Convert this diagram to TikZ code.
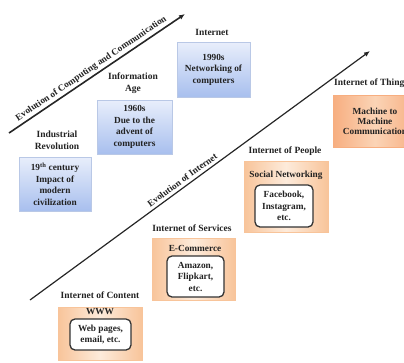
\documentclass[tikz,border=0pt]{standalone}
\usepackage{fontspec}
\setmainfont{Liberation Serif}
\usetikzlibrary{arrows.meta,shadows}
\definecolor{bluetop}{HTML}{E8EEFB}
\definecolor{bluebot}{HTML}{A8BFEE}
\definecolor{blueline}{HTML}{B9C8E6}
\definecolor{orEdge}{HTML}{F8C49A}
\definecolor{orMid}{HTML}{FDEBDB}
\definecolor{iotEdge}{HTML}{F7AE80}
\definecolor{iotMid}{HTML}{FBD4B6}
\definecolor{txt}{HTML}{222222}
\begin{document}
\begin{tikzpicture}[x=1pt,y=-1pt,
  every node/.style={font=\bfseries\fontsize{9.3}{11.5}\selectfont, inner sep=0pt, align=center, text=txt},
  bluebox/.style={draw=blueline, top color=bluetop, bottom color=bluebot,
    drop shadow={opacity=0.15, shadow xshift=1pt, shadow yshift=-1pt}},
  orbox/.style={draw=orEdge, left color=orEdge, right color=orEdge, middle color=orMid},
  iotbox/.style={draw=iotEdge, left color=iotEdge, right color=iotEdge, middle color=iotMid},
  innerbox/.style={draw=black!80, line width=1.3pt, fill=white, rounded corners=5pt},
  title/.style={font=\bfseries\fontsize{9.5}{12}\selectfont},
  arrowlabel/.style={font=\bfseries\fontsize{9.3}{10}\selectfont},
  mainarrow/.style={draw=black!85, -{Latex[length=6pt,width=5pt]}}
]
\clip (0,0) rectangle (404,362);
\useasboundingbox (0,0) rectangle (404,362);

% arrows
\coordinate (a1s) at (9,133);
\coordinate (a1e) at (185,14);
\draw[mainarrow, line width=1.6pt] (a1s) -- (a1e)
  node[pos=0.49, sloped, above=2pt, arrowlabel] (l1) {Evolution of Computing and Communication};
\coordinate (a2s) at (30,300);
\coordinate (a2e) at (370,51);
\draw[mainarrow, line width=1.2pt] (a2s) -- (a2e)
  node[pos=0.46, sloped, above=3pt, arrowlabel] (l2) {Evolution of Internet};

% blue boxes
\node[bluebox, minimum width=72pt, minimum height=54pt] (ind) at (55,184) {19\textsuperscript{th} century\\Impact of\\modern\\civilization};
\node[title] (indt) at (57,140) {Industrial\\Revolution};
\node[bluebox, minimum width=75pt, minimum height=54pt] (info) at (134.5,127) {1960s\\Due to the\\advent of\\computers};
\node[title] (infot) at (133,83) {Information\\Age};
\node[bluebox, minimum width=73pt, minimum height=55pt] (net) at (213.5,69.5) {1990s\\Networking of\\computers};
\node[title] (nett) at (212,32) {Internet};

% orange boxes
\node[iotbox, minimum width=84pt, minimum height=52pt] (iot) at (375,121) {};
\node[font=\bfseries\fontsize{9.3}{10}\selectfont] (iottx) at (375,121) {Machine to\\Machine\\Communication};
\node[title, anchor=west] (iott) at (334,83) {Internet of Things};

\node[orbox, minimum width=84pt, minimum height=71pt] (iop) at (286,196.5) {};
\node[title] (iopt) at (285,151) {Internet of People};
\node (iops) at (286,175) {Social Networking};
\node[innerbox, minimum width=58pt, minimum height=42pt] (iopi) at (284,206) {Facebook,\\Instagram,\\etc.};

\node[orbox, minimum width=83pt, minimum height=62pt] (ios) at (193.5,269) {};
\node[title] (iost) at (192,228) {Internet of Services};
\node (ioss) at (195,248) {E-Commerce};
\node[innerbox, minimum width=57pt, minimum height=41pt] (iosi) at (195.5,276.5) {Amazon,\\Flipkart,\\etc.};

\node[orbox, minimum width=84pt, minimum height=53pt] (ioc) at (100,333.5) {};
\node[title] (ioct) at (100,295) {Internet of Content};
\node (iocs) at (100,312) {WWW};
\node[innerbox, minimum width=61pt, minimum height=31pt] (ioci) at (100.5,334.5) {Web pages,\\email, etc.};
\end{tikzpicture}
\end{document}
